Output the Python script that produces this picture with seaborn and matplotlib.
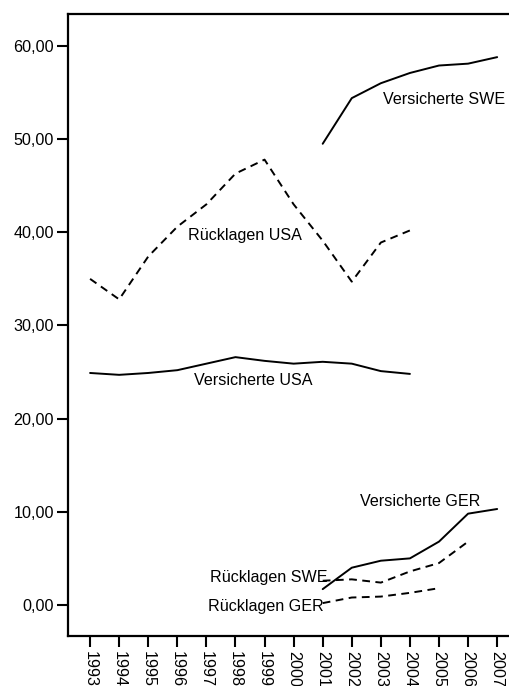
import numpy as np
import pandas as pd
import matplotlib
matplotlib.use("Agg")
import matplotlib.pyplot as plt
import seaborn as sns
from matplotlib.ticker import FuncFormatter

# Data
years = list(range(1993, 2008))
nan = np.nan

versicherte_usa = [24.9, 24.7, 24.9, 25.2, 25.9, 26.6, 26.2, 25.9, 26.1, 25.9, 25.1, 24.8, nan, nan, nan]
ruecklagen_usa = [35.0, 32.8, 37.4, 40.6, 43.0, 46.3, 47.8, 43.0, 39.1, 34.7, 38.9, 40.2, nan, nan, nan]
versicherte_swe = [nan] * 8 + [49.5, 54.4, 56.0, 57.1, 57.9, 58.1, 58.8]
versicherte_ger = [nan] * 8 + [1.7, 4.0, 4.75, 5.0, 6.8, 9.8, 10.3]
ruecklagen_swe = [nan] * 8 + [2.6, 2.75, 2.4, 3.6, 4.5, 6.8, nan]
ruecklagen_ger = [nan] * 8 + [0.2, 0.8, 0.9, 1.3, 1.8, nan, nan]

series = {
    "Versicherte USA": (versicherte_usa, "-"),
    "Rücklagen USA": (ruecklagen_usa, "--"),
    "Versicherte SWE": (versicherte_swe, "-"),
    "Versicherte GER": (versicherte_ger, "-"),
    "Rücklagen SWE": (ruecklagen_swe, "--"),
    "Rücklagen GER": (ruecklagen_ger, "--"),
}

# label positions (data coords, left edge / vertical centre)
label_pos = {
    "Versicherte SWE": (2003.08, 54.3),
    "Rücklagen USA": (1996.37, 39.7),
    "Versicherte USA": (1996.58, 24.1),
    "Versicherte GER": (2002.29, 11.1),
    "Rücklagen SWE": (1997.13, 3.0),
    "Rücklagen GER": (1997.06, -0.2),
}

sns.set_style("ticks")
plt.rcParams['font.family'] = ['Liberation Sans', 'DejaVu Sans']
fs = 11.6

fig = plt.figure(figsize=(5.1, 6.86), dpi=100)
ax = fig.add_axes([0.1333, 0.0729, 0.8706, 0.9067])

for name, (vals, ls) in series.items():
    df = pd.DataFrame({"year": years, "value": vals}).dropna()
    sns.lineplot(data=df, x="year", y="value", ax=ax, color="black",
                 linewidth=1.4, estimator=None, sort=True)
    line = ax.get_lines()[-1]
    if ls == "--":
        line.set_dashes((4.0, 2.8))

for name, (x, y) in label_pos.items():
    ax.text(x, y, name, ha="left", va="center", fontsize=fs, color="black")

ax.set_xlim(1992.24, 2007.51)
ax.set_ylim(-3.33, 63.43)
ax.set_xticks(years)
ax.set_xticklabels([str(y) for y in years], rotation=270, fontsize=fs)
ax.set_yticks([0, 10, 20, 30, 40, 50, 60])
ax.yaxis.set_major_formatter(FuncFormatter(lambda v, p: f"{v:.2f}".replace(".", ",")))
ax.tick_params(axis="both", direction="out", length=8, width=1.5, colors="black")
ax.tick_params(axis="y", labelsize=fs, pad=2)
ax.tick_params(axis="x", pad=3)
ax.set_xlabel("")
ax.set_ylabel("")

for side in ["left", "top", "bottom"]:
    ax.spines[side].set_visible(True)
    ax.spines[side].set_linewidth(1.6)
    ax.spines[side].set_color("black")
ax.spines["right"].set_visible(False)

fig.savefig("out.png", dpi=100)
